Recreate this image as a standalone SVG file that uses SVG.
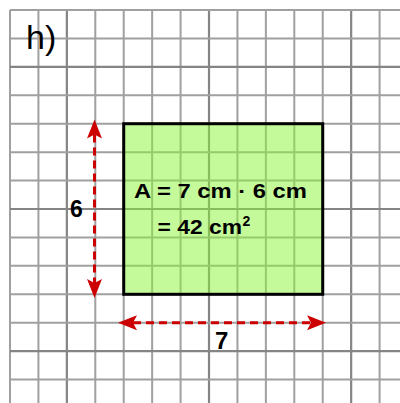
<svg xmlns="http://www.w3.org/2000/svg" width="400" height="403" viewBox="0 0 400 403">
<style>
.g{stroke:#a0a0a0;stroke-width:2;fill:none}
.gd{stroke:#858585;stroke-width:2.2;fill:none}
.dim{stroke:#cc0000;stroke-width:3;stroke-dasharray:8 5;fill:none}
.lbl{font-family:"Liberation Sans",Arial,sans-serif;font-weight:bold;fill:#000}
</style>
<defs>
<marker id="ah" viewBox="0 -8 20 16" refX="4" refY="0" markerWidth="20" markerHeight="16" markerUnits="userSpaceOnUse" orient="auto-start-reverse">
<path d="M0,-7.5 L19,0 L0,7.5 L4,0 Z" fill="#cc0000"/>
</marker>
</defs>
<rect width="400" height="403" fill="#fff"/>
<g id="grid">
<path class="g" d="M10,10V403M38.43,10V403M95.29,10V403M123.72,10V403M152.15,10V403M180.58,10V403M237.44,10V403M265.87,10V403M294.3,10V403M322.73,10V403M379.59,10V403"/>
<path class="gd" d="M66.86,10V403M209.01,10V403M351.16,10V403"/>
<path class="g" d="M10,10H400M10,38.43H400M10,95.29H400M10,123.72H400M10,152.15H400M10,180.58H400M10,237.44H400M10,265.87H400M10,294.3H400M10,322.73H400M10,379.59H400"/>
<path class="gd" d="M10,66.86H400M10,209.01H400M10,351.16H400"/>
</g>
<g id="rectangle">
<rect x="123.72" y="123.72" width="199.01" height="170.58" fill="#8cf535" fill-opacity="0.5" stroke="#000" stroke-width="3"/>
</g>
<g id="connectors">
<path class="dim" d="M94.5,134.5V283" marker-start="url(#ah)" marker-end="url(#ah)"/>
<path class="dim" d="M133,322.7H311" marker-start="url(#ah)" marker-end="url(#ah)"/>
</g>
<g id="title"><text x="26" y="49" font-family="Liberation Sans,Arial,sans-serif" font-size="34" fill="#000">h)</text></g>
<g id="label6"><text class="lbl" x="76.3" y="216.5" font-size="23" text-anchor="middle">6</text></g>
<g id="label7"><text class="lbl" x="221.7" y="348.5" font-size="24" text-anchor="middle">7</text></g>
<g id="formula">
<text class="lbl" x="134" y="198.3" font-size="21" textLength="173" lengthAdjust="spacingAndGlyphs">A = 7 cm · 6 cm</text>
<text class="lbl" x="157.5" y="234" font-size="21"><tspan textLength="84.5" lengthAdjust="spacingAndGlyphs">= 42 cm</tspan><tspan font-size="14" dy="-8.5" dx="0.5">2</tspan></text>
</g>
</svg>
